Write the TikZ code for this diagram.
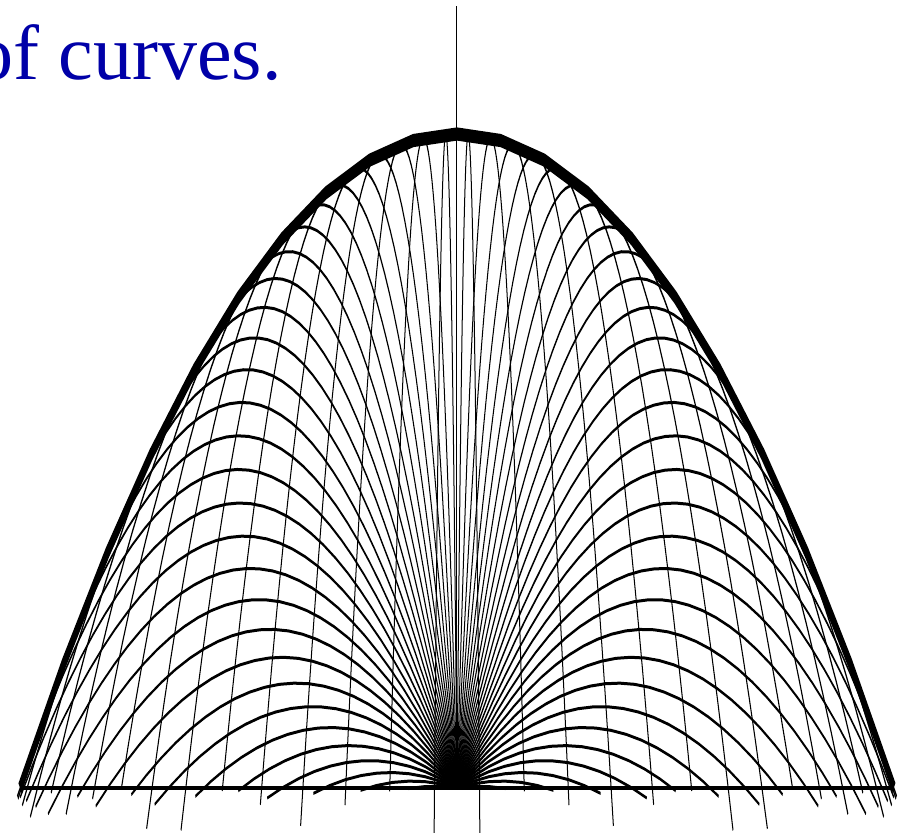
\documentclass[tikz,border=0pt]{standalone}
\usepackage{fontspec}
\setmainfont{Liberation Serif}
\definecolor{titleblue}{RGB}{0,0,168}
\tikzset{
  traj/.style={line width=1pt, black},
  envelope/.style={line width=4.4pt, black},
  axisline/.style={line width=1.3pt, black},
  yaxisline/.style={line width=1pt, black},
  titletext/.style={anchor=base east, inner sep=0pt, text=titleblue, font=\fontsize{78}{80}\selectfont}
}
\begin{document}
\begin{tikzpicture}
\useasboundingbox (-457pt,-45pt) rectangle (449pt,788pt);
\clip (-457pt,-45pt) rectangle (449pt,788pt);
\node[titletext] (title) at (-175pt,708pt) {of curves.};
\begin{scope}[x=437pt, y=436pt, transform canvas={yscale=3}]
  \coordinate (O) at (0,0);
  \coordinate (ytop) at (0,0.598);
  \coordinate (xl) at (-1,0);
  \coordinate (xr) at (1,0);
  \draw[yaxisline] (O) -- (ytop);
  \pgfmathsetmacro{\dtstep}{0.03697}
  \foreach \k in {1,...,60}{
    \pgfmathsetmacro{\th}{\k*180/61}
    \pgfmathsetmacro{\tl}{2*sin(\th)}
    \pgfmathtruncatemacro{\nn}{ceil(\tl/\dtstep)}
    \pgfmathsetmacro{\TT}{\nn*\dtstep}
    \pgfmathtruncatemacro{\ns}{\nn+1}
    \draw[traj] plot[samples=\ns, domain=0:\TT, variable=\tt] ({\tt*cos(\th)},{\tt*sin(\th)-0.5*\tt*\tt});
  }
  \draw[axisline] (xl) -- (xr);
  \draw[envelope] plot[samples=21, domain=-1:1] (\x,{0.5*(1-\x*\x)});
\end{scope}
\end{tikzpicture}
\end{document}
